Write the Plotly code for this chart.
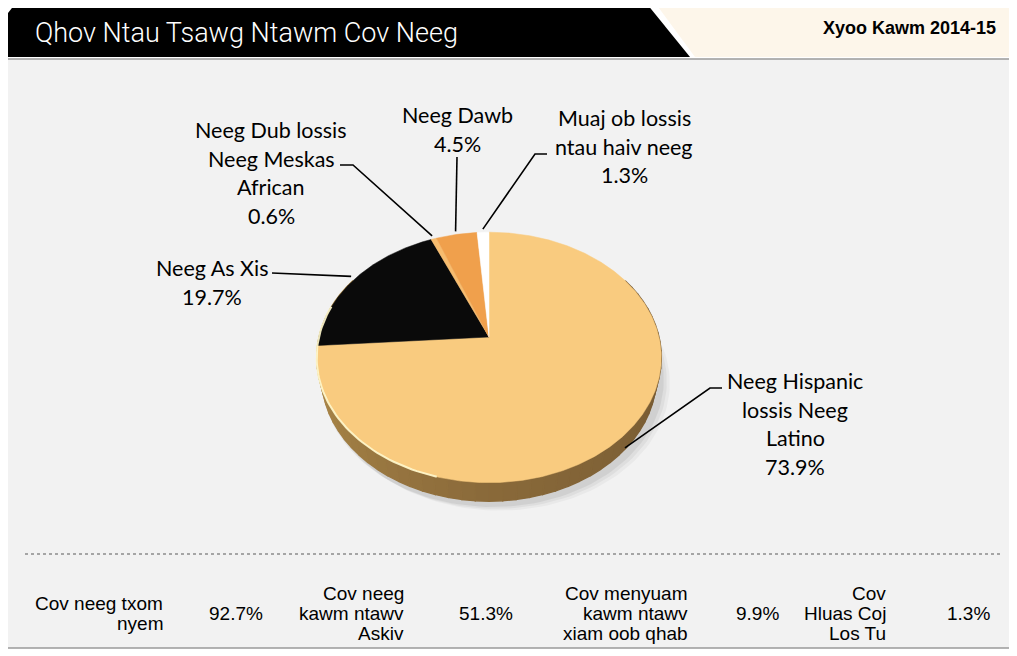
import numpy as np
import plotly.graph_objects as go

# ---------------- data ----------------
title = "Qhov Ntau Tsawg Ntawm Cov Neeg"
year_label = "Xyoo Kawm 2014-15"
groups = [
    "Neeg Hispanic<br>lossis Neeg<br>Latino",
    "Neeg As Xis",
    "Neeg Dub lossis<br>Neeg Meskas<br>African",
    "Neeg Dawb",
    "Muaj ob lossis<br>ntau haiv neeg",
]
shares = [73.9, 19.7, 0.6, 4.5, 1.3]
stat_labels = [
    "Cov neeg txom<br>nyem",
    "Cov neeg<br>kawm ntawv<br>Askiv",
    "Cov menyuam<br>kawm ntawv<br>xiam oob qhab",
    "Cov<br>Hluas Coj<br>Los Tu",
]
stat_values = [92.7, 51.3, 9.9, 1.3]

# ---------------- styles / layout ----------------
W, H_PX = 1017, 656
PAGE_OFF = 8  # browser body margin
slice_colors = ["#F9CB7F", "#0A0A0A", "#F7BC6E", "#F0A04C", "#FFFFFF"]
label_font = "Lato, Carlito, Calibri, sans-serif"
stat_font = "Liberation Sans, Arial, sans-serif"
# label anchor (centre x, first line y) and leader path on the label side
label_pos = [(795, 381), (212, 268), (271, 130), (457, 115), (624, 118)]
leader_pts = [
    [(722, 388), (710, 388)],
    [(272, 273)],
    [(340, 165), (353, 165)],
    [(457, 157)],
    [(547, 154), (535, 154)],
]
leader_on_side = [True, False, False, False, False]
LINE_H = 28.7
stat_label_right = [165, 406, 690, 888]
stat_value_center = [236, 486, 757, 968]

# perspective projection of a tilted disc
CX, CY = 489, 337
K, S, C, D = 726.0, 0.717, 0.697, 4.27
THICK = 0.17


def proj(theta_deg, r=1.0, z=0.0):
    t = np.radians(theta_deg)
    u = r * np.sin(t)
    v = r * np.cos(t)
    depth = D + v * C - z * S
    ycam = v * S + z * C
    return CX + K * u / depth, CY - K * ycam / depth


fig = go.Figure()

# soft drop shadow
for off, alpha in [(10, 0.035), (7, 0.045), (4, 0.06)]:
    th = np.linspace(0, 360, 181)
    xs, ys = proj(th, r=1.02, z=-THICK)
    fig.add_trace(go.Scatter(x=xs + off, y=ys + off * 0.6, mode="lines", fill="toself",
                             line=dict(width=0), fillcolor=f"rgba(0,0,0,{alpha})",
                             hoverinfo="skip", showlegend=False))

# side of the disc (gradient strips)
c_left = np.array([190, 152, 82])
c_mid = np.array([138, 106, 58])
c_right = np.array([108, 82, 48])
edges = np.linspace(60, 300, 61)
for a0, a1 in zip(edges[:-1], edges[1:]):
    tt = np.linspace(a0, a1, 4)
    xt, yt = proj(tt)
    xb, yb = proj(tt[::-1], z=-THICK)
    m = (a0 + a1) / 2
    if m < 180:
        f = (m - 60) / 120
        col = c_right + (c_mid - c_right) * f
    else:
        f = (m - 180) / 120
        col = c_mid + (c_left - c_mid) * f
    col = "rgb(%d,%d,%d)" % tuple(col.astype(int))
    fig.add_trace(go.Scatter(x=np.r_[xt, xb, xt[:1]], y=np.r_[yt, yb, yt[:1]], mode="lines", fill="toself",
                             line=dict(width=1.4, color=col), fillcolor=col,
                             hoverinfo="skip", showlegend=False))

# top face slices
total = sum(shares)
cum = 0.0
mids = []
for val, col in zip(shares, slice_colors):
    a0 = cum / total * 360
    a1 = (cum + val) / total * 360
    cum += val
    mids.append((a0 + a1) / 2)
    tt = np.linspace(a0, a1, max(3, int((a1 - a0) * 2)))
    xr, yr = proj(tt)
    fig.add_trace(go.Scatter(x=np.r_[CX, xr, CX], y=np.r_[CY, yr, CY], mode="lines",
                             fill="toself", fillcolor=col, line=dict(width=0.5, color=col),
                             hoverinfo="skip", showlegend=False))

# light rim highlight on the lower-left edge
tt = np.linspace(195, 285, 60)
xr, yr = proj(tt)
fig.add_trace(go.Scatter(x=xr, y=yr, mode="lines", line=dict(color="rgba(255,248,205,0.9)", width=2),
                         hoverinfo="skip", showlegend=False))

# leader lines
for pts, mid, side in zip(leader_pts, mids, leader_on_side):
    if side:
        ex, ey = proj(mid, r=1.0, z=-THICK * 0.9)
    else:
        ex, ey = proj(mid, r=1.035)
    xs = [p[0] for p in pts] + [float(ex)]
    ys = [p[1] for p in pts] + [float(ey)]
    fig.add_trace(go.Scatter(x=xs, y=ys, mode="lines", line=dict(color="black", width=1.6),
                             hoverinfo="skip", showlegend=False))

annotations = []
# slice labels
for g, v, (lx, ly) in zip(groups, shares, label_pos):
    lines = g.split("<br>") + [f"{v:.1f}%"]
    for k, ln in enumerate(lines):
        annotations.append(dict(x=lx, y=ly + k * LINE_H, text=ln, showarrow=False,
                                xanchor="center", yanchor="middle",
                                font=dict(family=label_font, size=21.5, color="black")))

# statistics row
for lab, val, rx, vx in zip(stat_labels, stat_values, stat_label_right, stat_value_center):
    lines = lab.split("<br>")
    n = len(lines)
    for k, ln in enumerate(lines):
        yy = 613.5 + (k - (n - 1) / 2) * 20
        annotations.append(dict(x=rx, y=yy, text=ln, showarrow=False, xanchor="right",
                                yanchor="middle", font=dict(family=stat_font, size=19, color="black")))
    annotations.append(dict(x=vx, y=613, text=f"{val:.1f}%", showarrow=False, xanchor="center",
                            yanchor="middle", font=dict(family=stat_font, size=19, color="black")))

# header texts
annotations.append(dict(x=33, y=33, text=title, showarrow=False, xanchor="left", yanchor="middle",
                        font=dict(family="Roboto, sans-serif", size=27, color="white", weight=300)))
annotations.append(dict(x=998, y=28, text="<b>" + year_label + "</b>", showarrow=False, xanchor="right",
                        yanchor="middle", font=dict(family=stat_font, size=18, color="black")))

shapes = [
    dict(type="rect", x0=5, x1=1015, y0=59, y1=648, xref="x", yref="y", layer="below",
         fillcolor="#F2F2F2", line=dict(color="#9A9A9A", width=1.5)),
    dict(type="path", path="M 653 0 L 1030 0 L 1030 57 L 695 57 Z", xref="x", yref="y",
         layer="below", fillcolor="#FDF6EA", line=dict(width=0)),
    dict(type="path", path="M 5 17 L 15 4 L 647 4 L 690 57 L 5 57 Z", xref="x", yref="y",
         layer="below", fillcolor="#000000", line=dict(width=0)),
    dict(type="line", x0=25, x1=1000, y0=554, y1=554, xref="x", yref="y", layer="below",
         line=dict(color="#8C8C8C", width=1.5, dash="dot")),
]

fig.update_layout(
    width=W, height=H_PX,
    margin=dict(l=0, r=0, t=0, b=0),
    paper_bgcolor="white", plot_bgcolor="white",
    xaxis=dict(range=[PAGE_OFF, W + PAGE_OFF], visible=False, fixedrange=True),
    yaxis=dict(range=[H_PX + PAGE_OFF, PAGE_OFF], visible=False, fixedrange=True),
    showlegend=False,
    annotations=annotations,
    shapes=shapes,
)

fig.write_html("out.html")
